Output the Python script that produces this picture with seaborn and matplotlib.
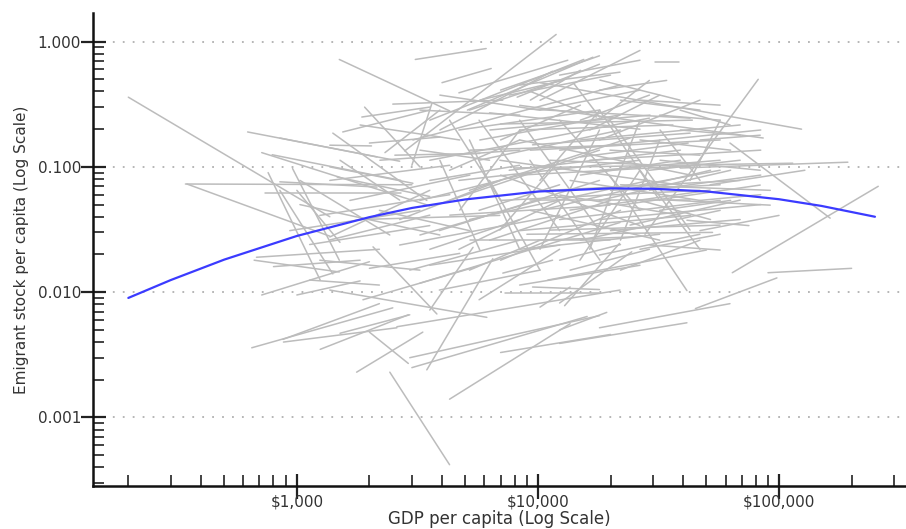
import numpy as np
import pandas as pd
import matplotlib
matplotlib.use("Agg")
import matplotlib.pyplot as plt
import seaborn as sns
from matplotlib.ticker import LogLocator, NullFormatter

# ---- country trajectories (start point -> end point) ----
gdp_start = [200, 625, 1500, 3100, 2800, 4000, 10200, 30500, 10200, 8400,
             27800, 62600, 64000, 90000, 18000, 12300, 45000, 2430, 1770, 3000,
             3460, 4300, 7000, 875, 1250, 650, 880, 2000, 345, 350,
             740, 715, 790, 760, 960, 680, 800, 715, 1000, 665,
             850, 1000, 1130, 850, 850, 1030, 1245, 935, 1130, 2500,
             1860, 1550, 1910, 2320, 3000, 1370, 2550, 1410, 3560, 3920,
             3030, 2000, 1370, 1470, 5740, 8200, 6300, 3560, 5200, 4700,
             5100, 5740, 14000, 8400, 18000, 9300, 9000, 7000, 8400, 9500,
             15000, 8000, 38900, 51800, 2000, 1370, 1880, 3560, 2600, 1510,
             2940, 10200, 7150, 3240, 7300, 11000, 12300, 12900, 9500, 10000,
             9000, 41500, 12300, 2070, 1370, 19800, 4300, 4700, 5200, 5700,
             6300, 7000, 7600, 8400, 9300, 10200, 11200, 12300, 13600, 15000,
             16400, 18000, 20000, 22000, 7000, 8400, 4700, 3900, 5700, 8400,
             12300, 18000, 5200, 10200, 16400, 22000, 29000, 26500, 32000, 4300,
             3240, 2670, 2200, 3560, 2940, 5200, 5700, 3900, 22000, 26500,
             47000, 47000, 18000, 15000, 22000, 10200, 7000, 6300, 26500, 4300,
             12300, 18000, 29000, 13600, 8400, 4700, 5200, 7600, 8400, 7000,
             9300, 11200, 15000, 20000, 26500, 5700, 3560, 3240, 18000, 12300,
             39000, 32000, 16400, 9300, 7000, 12300, 18000,
             1370, 1660, 1830, 2210, 2670, 3240, 4310, 5220, 6320, 6950,
             8410, 9260, 11200, 12330, 13570, 14930, 18080, 19900, 21900, 24100,
             26500, 29170, 32100, 35300, 10190, 6950, 4740, 14930, 3920, 9260,
             19900, 5220, 3560, 1370, 1245, 1030, 1510, 1830, 3240, 3920,
             18080, 26500, 38850, 47050, 32100, 42760]
stock_start = [0.36, 0.19, 0.72, 0.72, 0.134, 0.47, 0.34, 0.69, 0.47, 0.31,
               0.029, 0.155, 0.0143, 0.0143, 0.0052, 0.0039, 0.0074, 0.0023, 0.0023, 0.0025,
               0.0024, 0.0014, 0.0033, 0.0042, 0.0035, 0.0036, 0.0040, 0.0048, 0.073, 0.073,
               0.062, 0.13, 0.125, 0.09, 0.097, 0.019, 0.016, 0.0095, 0.0095, 0.018,
               0.065, 0.065, 0.0125, 0.17, 0.076, 0.05, 0.041, 0.031, 0.024, 0.317,
               0.25, 0.19, 0.30, 0.13, 0.103, 0.149, 0.124, 0.186, 0.236, 0.197,
               0.164, 0.155, 0.10, 0.083, 0.164, 0.36, 0.27, 0.113, 0.065, 0.39,
               0.284, 0.341, 0.47, 0.45, 0.41, 0.40, 0.29, 0.22, 0.197, 0.15,
               0.12, 0.098, 0.098, 0.072, 0.0155, 0.0104, 0.0087, 0.0072, 0.0053, 0.0047,
               0.0030, 0.0076, 0.0142, 0.0118, 0.0098, 0.0125, 0.0082, 0.0078, 0.011, 0.026,
               0.029, 0.0375, 0.0050, 0.023, 0.0276, 0.086, 0.054, 0.078, 0.038, 0.113,
               0.026, 0.054, 0.094, 0.031, 0.136, 0.045, 0.065, 0.038, 0.078, 0.026,
               0.113, 0.054, 0.031, 0.072, 0.018, 0.022, 0.022, 0.031, 0.236, 0.236,
               0.236, 0.284, 0.164, 0.022, 0.022, 0.026, 0.094, 0.164, 0.045, 0.094,
               0.054, 0.038, 0.045, 0.022, 0.015, 0.015, 0.0087, 0.0104, 0.015, 0.022,
               0.054, 0.031, 0.164, 0.236, 0.341, 0.284, 0.164, 0.078, 0.094, 0.236,
               0.136, 0.038, 0.065, 0.015, 0.0114, 0.197, 0.284, 0.374, 0.164, 0.086,
               0.045, 0.113, 0.086, 0.065, 0.054, 0.045, 0.078, 0.136, 0.0198, 0.018,
               0.197, 0.259, 0.197, 0.341, 0.41, 0.54, 0.24,
               0.078, 0.054, 0.038, 0.113, 0.0238, 0.0286, 0.0412, 0.136, 0.197, 0.113,
               0.086, 0.0543, 0.0313, 0.0596, 0.0452, 0.164, 0.094, 0.136, 0.0495, 0.0343,
               0.0716, 0.0238, 0.113, 0.0543, 0.078, 0.0313, 0.0452, 0.018, 0.113, 0.113,
               0.236, 0.0261, 0.0164, 0.0261, 0.018, 0.078, 0.113, 0.216, 0.284, 0.374,
               0.493, 0.341, 0.284, 0.164, 0.197, 0.078]
gdp_end = [1370, 2670, 4300, 6100, 11900, 6400, 26500, 38500, 124000, 86000,
           82000, 163000, 258000, 200000, 62600, 41500, 98000, 4300, 3330, 16000,
           6500, 13600, 20000, 2200, 2900, 2500, 2600, 2900, 3000, 1370,
           2700, 3550, 2700, 1250, 1500, 2200, 1830, 2000, 1830, 1500,
           1410, 1510, 2200, 2150, 2150, 3920, 4310, 3240, 3560, 7150,
           3560, 3560, 3240, 3920, 3630, 2040, 5740, 3460, 15500, 11500,
           21900, 3920, 3030, 3560, 21900, 18000, 26500, 29000, 24100, 13300,
           16900, 12700, 18000, 21900, 34200, 17500, 42800, 43700, 36300, 42800,
           42000, 114000, 193000, 128000, 4740, 6140, 5580, 5380, 21900, 2940,
           18000, 13600, 11500, 21900, 18000, 50000, 24500, 21800, 18000, 24800,
           53000, 75000, 19300, 3810, 3560, 41500, 18000, 26500, 29000, 22000,
           20000, 47000, 39000, 43000, 57000, 52000, 69000, 57000, 47000, 57000,
           84000, 63000, 69000, 92000, 22000, 32000, 12300, 18000, 12300, 18000,
           26500, 32000, 8400, 18000, 26500, 32000, 69000, 63000, 63000, 8400,
           10200, 7000, 5200, 8400, 8400, 10200, 12300, 10200, 47000, 57000,
           84000, 100000, 47000, 29000, 47000, 26500, 15000, 10200, 47000, 7000,
           84000, 84000, 84000, 29000, 26500, 18000, 12300, 20000, 43000, 26500,
           32000, 32000, 39000, 57000, 52000, 12300, 8400, 6300, 47000, 22000,
           69000, 57000, 32000, 15000, 18000, 26500, 29000,
           4310, 5220, 6950, 8410, 12330, 10190, 19900, 21900, 29170, 38850,
           47050, 42760, 56980, 38850, 51780, 69000, 56980, 47050, 83570, 69000,
           56980, 56980, 83570, 91970, 18080, 12330, 8410, 26500, 5740, 18080,
           42760, 19900, 12330, 3560, 3240, 2430, 2670, 4740, 8410, 10190,
           38850, 56980, 62700, 83570, 47050, 56980]
stock_end = [0.040, 0.111, 0.28, 0.88, 1.14, 0.61, 0.85, 0.69, 0.20, 0.17,
             0.50, 0.039, 0.070, 0.0155, 0.0081, 0.0057, 0.013, 0.00042, 0.0048, 0.0064,
             0.0185, 0.0056, 0.0046, 0.0081, 0.0066, 0.0075, 0.0052, 0.0027, 0.072, 0.028,
             0.062, 0.049, 0.078, 0.0125, 0.018, 0.022, 0.018, 0.0175, 0.0123, 0.0145,
             0.014, 0.025, 0.0114, 0.12, 0.069, 0.0286, 0.060, 0.045, 0.034, 0.341,
             0.30, 0.284, 0.10, 0.284, 0.32, 0.147, 0.128, 0.054, 0.72, 0.58,
             0.45, 0.173, 0.074, 0.058, 0.26, 0.66, 0.20, 0.245, 0.17, 0.71,
             0.75, 0.49, 0.25, 0.57, 0.49, 0.25, 0.245, 0.236, 0.216, 0.186,
             0.155, 0.107, 0.109, 0.094, 0.0204, 0.0063, 0.016, 0.0228, 0.0104, 0.0066,
             0.0065, 0.011, 0.018, 0.036, 0.0098, 0.0217, 0.021, 0.0245, 0.0105, 0.0276,
             0.030, 0.034, 0.0069, 0.0067, 0.065, 0.0103, 0.136, 0.113, 0.078, 0.197,
             0.054, 0.065, 0.136, 0.041, 0.164, 0.094, 0.078, 0.054, 0.054, 0.045,
             0.136, 0.094, 0.038, 0.065, 0.045, 0.029, 0.054, 0.078, 0.031, 0.031,
             0.045, 0.054, 0.022, 0.197, 0.236, 0.164, 0.113, 0.136, 0.054, 0.164,
             0.094, 0.078, 0.031, 0.038, 0.026, 0.026, 0.022, 0.015, 0.026, 0.029,
             0.060, 0.041, 0.341, 0.374, 0.284, 0.41, 0.311, 0.015, 0.022, 0.054,
             0.197, 0.050, 0.086, 0.022, 0.0164, 0.284, 0.49, 0.54, 0.086, 0.034,
             0.026, 0.103, 0.113, 0.072, 0.038, 0.072, 0.103, 0.113, 0.029, 0.024,
             0.179, 0.236, 0.374, 0.59, 0.77, 0.71, 0.49,
             0.103, 0.086, 0.041, 0.136, 0.0412, 0.0543, 0.0495, 0.149, 0.259, 0.0716,
             0.103, 0.0543, 0.0343, 0.0412, 0.0653, 0.216, 0.113, 0.124, 0.0716, 0.0543,
             0.094, 0.0217, 0.094, 0.0495, 0.284, 0.113, 0.197, 0.094, 0.0217, 0.018,
             0.0313, 0.0261, 0.0238, 0.0412, 0.0150, 0.0286, 0.0543, 0.164, 0.259, 0.284,
             0.341, 0.311, 0.216, 0.179, 0.078, 0.236]

# ---- fitted curve ----
fit_gdp = [200, 300, 500, 1000, 2000, 3000, 5000, 10000, 20000, 30000, 50000, 100000, 150000, 250000]
fit_stock = [0.0090, 0.0125, 0.0182, 0.0281, 0.0397, 0.047, 0.055, 0.0636, 0.0674, 0.0669, 0.0637, 0.0552, 0.0488, 0.0400]

# ---- tick labels ----
x_ticks = [1000, 10000, 100000]
x_tick_labels = [r"\$1,000", r"\$10,000", r"\$100,000"]
y_ticks = [0.001, 0.01, 0.1, 1.0]
y_tick_labels = ["0.001", "0.010", "0.100", "1.000"]

sns.set_theme(style="white")
plt.rcParams["font.family"] = ["DejaVu Sans"]

n = len(gdp_start)
df = pd.DataFrame({
    "country": np.repeat(np.arange(n), 2),
    "gdp": np.column_stack([gdp_start, gdp_end]).ravel(),
    "stock": np.column_stack([stock_start, stock_end]).ravel(),
})
fit = pd.DataFrame({"gdp": fit_gdp, "stock": fit_stock})

fig = plt.figure(figsize=(9.06, 5.29), dpi=100)
ax = fig.add_axes([0.1032, 0.0813, 0.8958, 0.894])
ax.set_xscale("log")
ax.set_yscale("log")

sns.lineplot(data=df, x="gdp", y="stock", units="country", estimator=None,
             sort=False, color="#bcbcbc", linewidth=1.1, ax=ax, legend=False)
sns.lineplot(data=fit, x="gdp", y="stock", sort=False, color="#3b3bff",
             linewidth=1.6, ax=ax, legend=False)

ax.set_xlim(143.4, 333400)
ax.set_ylim(0.000284, 1.689)

ax.set_xticks(x_ticks)
ax.set_xticklabels(x_tick_labels)
ax.set_yticks(y_ticks)
ax.set_yticklabels(y_tick_labels)
for axis in (ax.xaxis, ax.yaxis):
    axis.set_minor_locator(LogLocator(base=10, subs=np.arange(2, 10), numticks=30))
    axis.set_minor_formatter(NullFormatter())

ax.tick_params(axis="both", which="both", bottom=True, left=True, top=False, right=False)
ax.tick_params(axis="both", which="major", direction="inout", length=18, width=1.6,
               color="#222222", labelsize=11, labelcolor="#333333")
ax.tick_params(axis="x", which="major", pad=-3)
ax.tick_params(axis="y", which="major", pad=0)
ax.tick_params(axis="both", which="minor", direction="in", length=8, width=1.2,
               color="#222222")

ax.grid(False)
ax.yaxis.grid(True, which="major", color="#b0b0b0", linestyle=(0, (1, 4.5)), linewidth=1.3)
ax.set_axisbelow(True)

for side in ("top", "right"):
    ax.spines[side].set_visible(False)
for side in ("left", "bottom"):
    ax.spines[side].set_color("#111111")
    ax.spines[side].set_linewidth(1.8)

ax.set_xlabel("GDP per capita (Log Scale)", fontsize=12, color="#333333", labelpad=0.5)
ax.set_ylabel("Emigrant stock per capita (Log Scale)", fontsize=11, color="#333333", labelpad=6)

fig.savefig("out.png", dpi=100)
